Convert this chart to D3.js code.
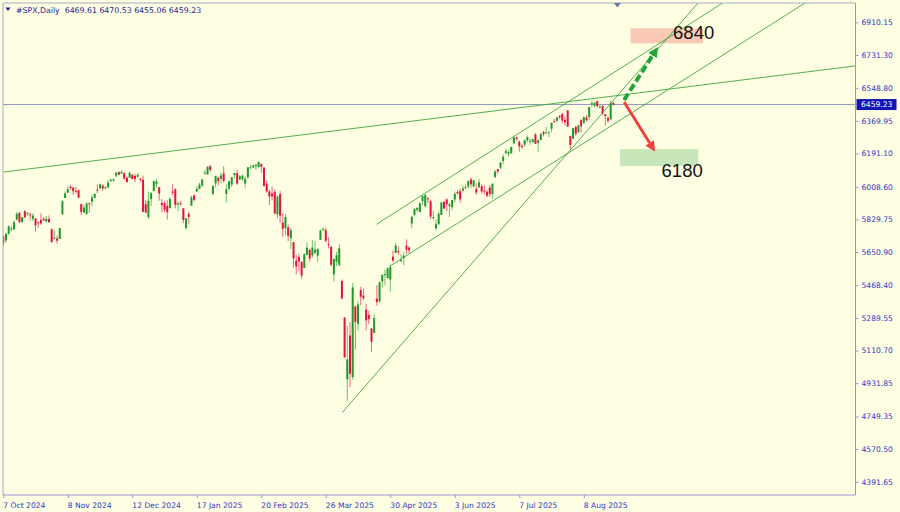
<!DOCTYPE html>
<html><head><meta charset="utf-8">
<script src="https://cdn.jsdelivr.net/npm/d3@7"></script>
<style>html,body{margin:0;padding:0;background:#fefee2;}svg{display:block;}</style>
</head><body>
<svg id="c" width="900" height="512"></svg>
<script>
// ---------- data ----------
const header = "#SPX,Daily  6469.61 6470.53 6455.06 6459.23";
const lastPrice = 6459.23;
const xTickIndex = [0,24,48,72,96,120,144,168,192,216];
const xTickLabels = ["7 Oct 2024","8 Nov 2024","12 Dec 2024","17 Jan 2025","20 Feb 2025","26 Mar 2025","30 Apr 2025","3 Jun 2025","7 Jul 2025","8 Aug 2025"];
const yTicks = [6910.15,6731.30,6548.80,6369.95,6191.10,6008.60,5829.75,5650.90,5468.40,5289.55,5110.70,4931.85,4749.35,4570.50,4391.65];

const opens = [5737,5714,5751,5778,5775,5829,5866,5816,5875,5859,5857,5833,5835,5814,5827,5833,5819,5832,5775,5723,
5725,5722,5857,5947,5976,6009,6004,5986,5989,5913,5867,5860,5918,5927,5947,5993,6000,6015,5999,6005,
6040,6043,6069,6089,6081,6083,6058,6058,6074,6068,6063,6053,6047,5913,5843,5941,5985,6024,6006,5920,
5920,5903,5892,5982,5994,5911,5918,5890,5782,5859,5905,5962,5983,5997,6015,6081,6076,6121,5969,6027,
6058,6051,6082,5969,5998,6021,6072,6083,6049,6050,6026,6061,6115,6115,6122,6118,6134,6114,6026,5983,
5971,5981,5857,5968,5812,5782,5786,5727,5705,5603,5624,5597,5563,5635,5662,5632,5646,5631,5718,5776,
5771,5696,5679,5528,5597,5580,5492,5292,4953,5193,4965,5353,5256,5442,5412,5335,5306,5232,5207,5395,
5381,5489,5529,5508,5500,5625,5645,5655,5606,5619,5686,5675,5807,5854,5881,5870,5929,5902,5945,5929,
5842,5781,5803,5854,5926,5939,5903,5897,5939,5979,5985,5987,6005,6010,6049,6010,5997,6005,6012,5987,
5981,6004,5969,6062,6105,6113,6150,6194,6187,6192,6246,6279,6255,6233,6239,6263,6256,6255,6295,6248,
6265,6308,6305,6307,6327,6368,6371,6397,6409,6376,6427,6287,6272,6336,6309,6374,6359,6389,6391,6461,
6454,6478,6446,6450,6406,6385,6378,6469.61];
const highs = [5739,5757,5796,5796,5823,5871,5870,5843,5879,5870,5867,5863,5835,5818,5862,5842,5848,5851,5781,5772,
5741,5783,5934,5983,6012,6018,6008,6009,5993,5916,5909,5922,5921,5965,5974,6021,6026,6021,6012,6044,
6053,6053,6088,6093,6099,6088,6065,6093,6079,6079,6085,6058,6070,5935,5982,5979,6041,6050,6007,5941,
5929,5935,5950,6022,6001,5928,5930,5890,5837,5871,5960,5964,6012,6030,6051,6100,6119,6129,6017,6069,
6064,6087,6121,6022,6042,6062,6084,6101,6073,6076,6064,6116,6128,6130,6130,6147,6134,6115,6044,5993,
6010,5994,5960,5986,5865,5860,5802,5784,5705,5636,5642,5599,5645,5703,5670,5716,5711,5670,5775,5787,
5785,5732,5685,5615,5651,5695,5500,5292,5246,5267,5481,5353,5381,5460,5450,5367,5329,5232,5310,5469,
5489,5528,5554,5565,5581,5659,5700,5683,5640,5650,5720,5683,5850,5892,5896,5924,5959,5969,5954,5938,
5878,5829,5870,5924,5930,5944,5922,5937,5982,5991,5999,6016,6022,6043,6060,6046,6027,6051,6024,6019,
5990,6018,6028,6101,6108,6146,6187,6216,6211,6228,6285,6283,6263,6242,6269,6290,6274,6272,6303,6266,
6303,6315,6336,6310,6359,6381,6390,6402,6409,6392,6428,6288,6330,6343,6349,6379,6395,6402,6446,6481,
6474,6481,6455,6456,6407,6394,6482,6470.53];
const lows = [5684,5704,5745,5762,5771,5824,5809,5809,5836,5846,5825,5821,5762,5784,5800,5823,5813,5811,5703,5723,
5697,5722,5857,5947,5976,5992,5963,5971,5946,5853,5865,5854,5866,5901,5945,5973,5994,5987,5995,6003,
6036,6034,6061,6073,6079,6048,6028,6058,6051,6033,6059,6035,5867,5866,5832,5903,5983,6004,5932,5869,
5869,5829,5889,5961,5890,5874,5905,5809,5774,5807,5905,5926,5981,5995,6007,6076,6074,6089,5962,6005,
6015,6028,6031,5923,5990,6007,6052,6020,6045,6042,6003,6051,6108,6110,6100,6111,6084,6009,5977,5909,
5933,5858,5837,5810,5733,5743,5711,5667,5565,5529,5546,5504,5563,5632,5598,5621,5640,5597,5718,5765,
5703,5671,5573,5489,5574,5571,5390,5070,4835,4910,4950,5116,5221,5359,5387,5221,5255,5101,5207,5356,
5371,5455,5468,5505,5434,5597,5645,5635,5593,5579,5639,5644,5781,5847,5871,5867,5907,5895,5919,5830,
5826,5768,5800,5854,5886,5874,5843,5880,5922,5967,5921,5978,5996,5999,6002,6006,5964,6004,5970,5966,
5950,5953,5943,6054,6081,6105,6132,6185,6172,6191,6245,6260,6201,6217,6228,6252,6239,6247,6243,6201,
6264,6285,6303,6282,6307,6360,6361,6379,6358,6343,6336,6212,6270,6288,6301,6305,6353,6365,6375,6445,
6442,6443,6436,6400,6343,6360,6376,6455.06];
const closes = [5696,5751,5792,5780,5815,5860,5815,5842,5841,5865,5854,5851,5797,5810,5808,5824,5833,5814,5705,5729,
5713,5783,5929,5973,5996,6001,5984,5985,5949,5871,5894,5917,5917,5949,5969,5987,6022,5999,6005,6032,
6047,6050,6086,6075,6090,6053,6035,6084,6051,6051,6074,6051,5872,5867,5931,5974,6040,6038,5971,5907,
5882,5869,5942,5975,5909,5918,5915,5827,5836,5843,5950,5937,5997,6020,6049,6086,6119,6101,6012,6068,
6039,6071,6041,5995,6038,6061,6084,6026,6066,6069,6052,6115,6115,6125,6130,6144,6118,6013,5983,5955,
5956,5862,5955,5850,5778,5843,5739,5770,5615,5572,5599,5522,5639,5675,5615,5675,5663,5668,5768,5777,
5712,5693,5581,5612,5633,5671,5397,5074,5062,4983,5457,5268,5363,5406,5397,5276,5283,5158,5288,5376,
5485,5525,5529,5561,5569,5604,5687,5650,5607,5631,5664,5660,5844,5887,5893,5917,5958,5964,5940,5845,
5842,5803,5860,5922,5889,5912,5912,5936,5970,5971,5939,6000,6006,6039,6022,6045,5977,6033,5983,5981,
5960,5968,6025,6092,6092,6141,6173,6205,6198,6227,6279,6270,6230,6226,6263,6280,6260,6269,6244,6264,
6297,6297,6306,6310,6359,6363,6389,6390,6371,6363,6339,6238,6330,6299,6345,6340,6389,6373,6446,6467,
6469,6450,6449,6411,6396,6370,6467,6459.23];

// trend lines: [barIndex, price] pairs (rays extend to the right)
const trendLong   = [[0,6089],[317,6671]];
const trendApril  = [[126.2,4772],[211.5,6219]];
const trendUpper  = [[138.9,5803],[266.7,7007]];
const trendLower  = [[143.9,5574],[298.3,7016]];
// forecast arrows [barIndex, price]
const arrowUp   = [[231,6484],[243.6,6775]];
const arrowDown = [[231,6473],[242.5,6202]];
// target zones [idx0, idx1, priceTop, priceBottom]
const zoneUp   = [233.4,260.4,6877,6795];
const zoneDown = [229.5,258.6,6215,6122];
const targetUp = 6840, targetDown = 6180;

// ---------- layout ----------
const svg = d3.select("#c");
const P = {l:3, r:855.5, t:3, b:495};
const x = d3.scaleLinear().domain([0,216]).range([3.3,583.8]);
const y = d3.scaleLinear().domain([4391.65,6910.15]).range([481.7,22.3]);
const bg = "#fefee2";
svg.append("rect").attr("width",900).attr("height",512).attr("fill",bg);

svg.append("defs").append("clipPath").attr("id","clip")
  .append("rect").attr("x",P.l).attr("y",P.t).attr("width",P.r-P.l).attr("height",P.b-P.t);
const g = svg.append("g").attr("clip-path","url(#clip)");

// price line
g.append("line").attr("x1",P.l).attr("x2",P.r).attr("y1",y(lastPrice)).attr("y2",y(lastPrice))
  .attr("stroke","#8f98bc").attr("stroke-width",1);

// zones
function zone(z, fill){
  g.append("rect").attr("x",x(z[0])).attr("width",x(z[1])-x(z[0]))
   .attr("y",y(z[2])).attr("height",y(z[3])-y(z[2])).attr("fill",fill);
}
zone(zoneUp,"#f9c9b5");
zone(zoneDown,"#c7e6b9");

// trend lines
function ray(p, color){
  const x1=x(p[0][0]), y1=y(p[0][1]), x2=x(p[1][0]), y2=y(p[1][1]);
  const k=(y2-y1)/(x2-x1);
  const xe=P.r+5;
  g.append("line").attr("x1",x1).attr("y1",y1).attr("x2",xe).attr("y2",y1+k*(xe-x1))
   .attr("stroke",color).attr("stroke-width",0.9);
}
const tc="#3ea83e";
ray(trendLong,tc); ray(trendApril,tc); ray(trendUpper,tc); ray(trendLower,tc);

// candles
const N = closes.length;
const bull="#1f9a2a", bear="#e0143c";
const idx = d3.range(N);
g.selectAll(".w").data(idx).join("line")
  .attr("x1",i=>x(i)).attr("x2",i=>x(i))
  .attr("y1",i=>y(highs[i])).attr("y2",i=>y(lows[i]))
  .attr("stroke",i=>closes[i]>=opens[i]?bull:bear).attr("stroke-width",0.9).attr("opacity",0.7);
g.selectAll(".b").data(idx).join("rect")
  .attr("x",i=>x(i)-1).attr("width",2)
  .attr("y",i=>y(Math.max(opens[i],closes[i])))
  .attr("height",i=>Math.max(1,Math.abs(y(opens[i])-y(closes[i]))))
  .attr("fill",i=>closes[i]>=opens[i]?bull:bear);

// arrows
function arrow(a, color, width, dash, headLen, headW){
  const x1=x(a[0][0]), y1=y(a[0][1]), x2=x(a[1][0]), y2=y(a[1][1]);
  const ang=Math.atan2(y2-y1,x2-x1);
  const bx=x2-headLen*Math.cos(ang), by=y2-headLen*Math.sin(ang);
  g.append("line").attr("x1",x1).attr("y1",y1).attr("x2",bx).attr("y2",by)
    .attr("stroke",color).attr("stroke-width",width).attr("stroke-dasharray",dash);
  const px=-Math.sin(ang)*headW/2, py=Math.cos(ang)*headW/2;
  g.append("path").attr("d",`M${x2},${y2}L${bx+px},${by+py}L${bx-px},${by-py}Z`).attr("fill",color);
}
arrow(arrowUp,"#23a23a",4,"7.5,3.5",10,10);
arrow(arrowDown,"#f23c3c",2.8,null,10,10);

// target labels
svg.append("text").attr("x",x(zoneUp[0])+42.5).attr("y",y(targetUp)-2.5).attr("dominant-baseline","central")
  .attr("font-family","Liberation Sans, Arial, sans-serif").attr("font-size",18.5).attr("fill","#111").text(targetUp);
svg.append("text").attr("x",x(zoneDown[0])+41.5).attr("y",y(targetDown)+15).attr("dominant-baseline","central")
  .attr("font-family","Liberation Sans, Arial, sans-serif").attr("font-size",18.5).attr("fill","#111").text(targetDown);

// frame
const frame="#9696d6";
svg.append("line").attr("x1",P.l).attr("x2",P.r).attr("y1",P.t).attr("y2",P.t).attr("stroke","#a8acc4").attr("stroke-width",1.2);
svg.append("line").attr("x1",P.l).attr("x2",P.l).attr("y1",P.t).attr("y2",P.b).attr("stroke","#a8a8cc").attr("stroke-width",1);
svg.append("line").attr("x1",P.r).attr("x2",P.r).attr("y1",P.t).attr("y2",P.b).attr("stroke",frame).attr("stroke-width",1);
svg.append("line").attr("x1",P.l).attr("x2",P.r).attr("y1",P.b).attr("y2",P.b).attr("stroke",frame).attr("stroke-width",1);

// axes
const axColor="#3535c8";
const font="DejaVu Sans, Verdana, sans-serif";
const yAx = svg.append("g").attr("transform",`translate(${P.r},0)`)
  .call(d3.axisRight(y).tickValues(yTicks).tickFormat(d3.format(".2f")).tickSize(3).tickPadding(3));
const xAx = svg.append("g").attr("transform",`translate(0,${P.b})`)
  .call(d3.axisBottom(x).tickValues(xTickIndex).tickFormat((d,i)=>xTickLabels[i]).tickSize(3).tickPadding(3));
[yAx,xAx].forEach(a=>{
  a.select(".domain").remove();
  a.selectAll("line").attr("stroke",frame);
  a.selectAll("text").attr("fill",axColor).attr("font-family",font).attr("font-size",7.6);
});
xAx.selectAll("text").attr("text-anchor","start").attr("dx",-0.5).attr("dy","0.95em");

// current price tag
const tagY=y(lastPrice);
svg.append("rect").attr("x",P.r+1).attr("y",tagY-5.5).attr("width",40).attr("height",11).attr("fill","#1414b4");
svg.append("text").attr("x",P.r+5.5).attr("y",tagY).attr("dominant-baseline","central")
  .attr("fill","#ffffff").attr("font-family",font).attr("font-size",7.6).text(d3.format(".2f")(lastPrice));

// header
svg.append("path").attr("d","M5.5,7.5L10.5,7.5L8,11Z").attr("fill","#1c1c90");
svg.append("text").attr("x",16).attr("y",10).attr("dominant-baseline","central").attr("xml:space","preserve")
  .attr("fill","#24249a").attr("font-family",font).attr("font-size",7.8).style("white-space","pre").text(header);

// shift marker
const sx = x(228.5);
svg.append("path").attr("d",`M${sx-3.5},3L${sx+3.5},3L${sx},7.5Z`).attr("fill","#6a74aa");
</script>
</body></html>
